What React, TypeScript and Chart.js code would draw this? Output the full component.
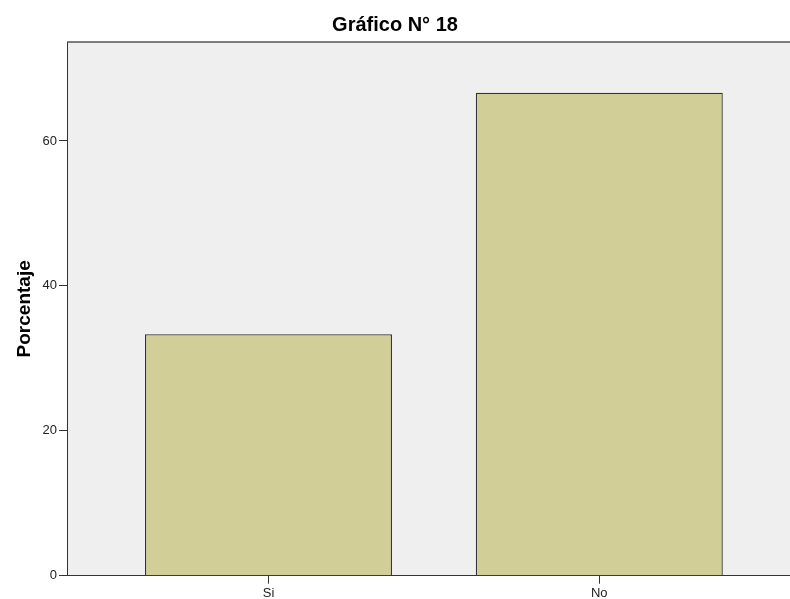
import React, { useEffect, useRef } from "react";
import { Chart, registerables } from "chart.js";

Chart.register(...registerables);

const categories: string[] = ["Si", "No"];
const percentages: number[] = [33.33, 66.67];
const yTicks: number[] = [0, 20, 40, 60];
const titleText = "Gráfico N° 18";
const yAxisTitle = "Porcentaje";

const FONT = "'Liberation Sans', Arial, Helvetica, sans-serif";

const plotFrame = {
  id: "plotFrame",
  beforeDraw(chart: any) {
    const { ctx, chartArea } = chart;
    ctx.save();
    ctx.fillStyle = "#EFEFEF";
    ctx.fillRect(chartArea.left, chartArea.top, chartArea.right - chartArea.left, chartArea.bottom - chartArea.top);
    ctx.restore();
  },
  afterDraw(chart: any) {
    const { ctx, chartArea } = chart;
    ctx.save();
    ctx.strokeStyle = "#555555";
    ctx.lineWidth = 1.5;
    ctx.beginPath();
    ctx.moveTo(chartArea.left, chartArea.top);
    ctx.lineTo(chartArea.right, chartArea.top);
    ctx.stroke();
    ctx.restore();
  },
};

export default function App() {
  const canvasRef = useRef<HTMLCanvasElement | null>(null);

  useEffect(() => {
    if (!canvasRef.current) return;
    const points = categories.map((c, i) => ({ x: i + 1, y: percentages[i] }));
    const chart = new Chart(canvasRef.current, {
      type: "bar",
      data: {
        datasets: [
          {
            data: points as any,
            backgroundColor: "#D2CE98",
            borderColor: "#333333",
            borderWidth: 1.3,
            categoryPercentage: 1,
            barPercentage: 0.7466,
          },
        ],
      },
      options: {
        responsive: false,
        animation: false,
        devicePixelRatio: 1,
        layout: { padding: 0 },
        plugins: {
          legend: { display: false },
          tooltip: { enabled: false },
          title: {
            display: true,
            text: titleText,
            color: "#000000",
            font: { family: FONT, size: 20, weight: "bold" },
            padding: { top: 13, bottom: 5 },
          },
        },
        scales: {
          x: {
            type: "linear",
            offset: false,
            min: 0.3909,
            max: 2.5765,
            afterBuildTicks: (scale: any) => {
              scale.ticks = categories.map((_, i) => ({ value: i + 1 }));
            },
            afterFit: (scale: any) => {
              scale.height = 23.3;
            },
            ticks: {
              callback: (v: any) => categories[Number(v) - 1] ?? "",
              color: "#222222",
              font: { family: FONT, size: 13 },
              padding: 2,
              maxRotation: 0,
              autoSkip: false,
            },
            grid: {
              offset: false,
              drawOnChartArea: false,
              drawTicks: true,
              tickLength: 8,
              tickColor: "#333333",
            },
            border: { display: true, color: "#333333", width: 1 },
          },
          y: {
            type: "linear",
            min: 0,
            max: 73.66,
            afterBuildTicks: (scale: any) => {
              scale.ticks = yTicks.map((v) => ({ value: v }));
            },
            afterFit: (scale: any) => {
              scale.width = 67;
            },
            ticks: {
              color: "#222222",
              font: { family: FONT, size: 13 },
              padding: 2,
            },
            grid: {
              drawOnChartArea: false,
              drawTicks: true,
              tickLength: 8,
              tickColor: "#333333",
            },
            border: { display: true, color: "#333333", width: 1 },
            title: {
              display: true,
              text: yAxisTitle,
              color: "#000000",
              font: { family: FONT, size: 19, weight: "bold" },
              padding: { top: 13, bottom: 0 },
            },
          },
        },
      },
      plugins: [plotFrame],
    });
    return () => chart.destroy();
  }, []);

  return (
    <div style={{ position: "absolute", left: 0, top: 0, width: 790, height: 599, background: "#ffffff" }}>
      <canvas ref={canvasRef} width={790} height={599} style={{ display: "block", width: 790, height: 599 }} />
    </div>
  );
}
